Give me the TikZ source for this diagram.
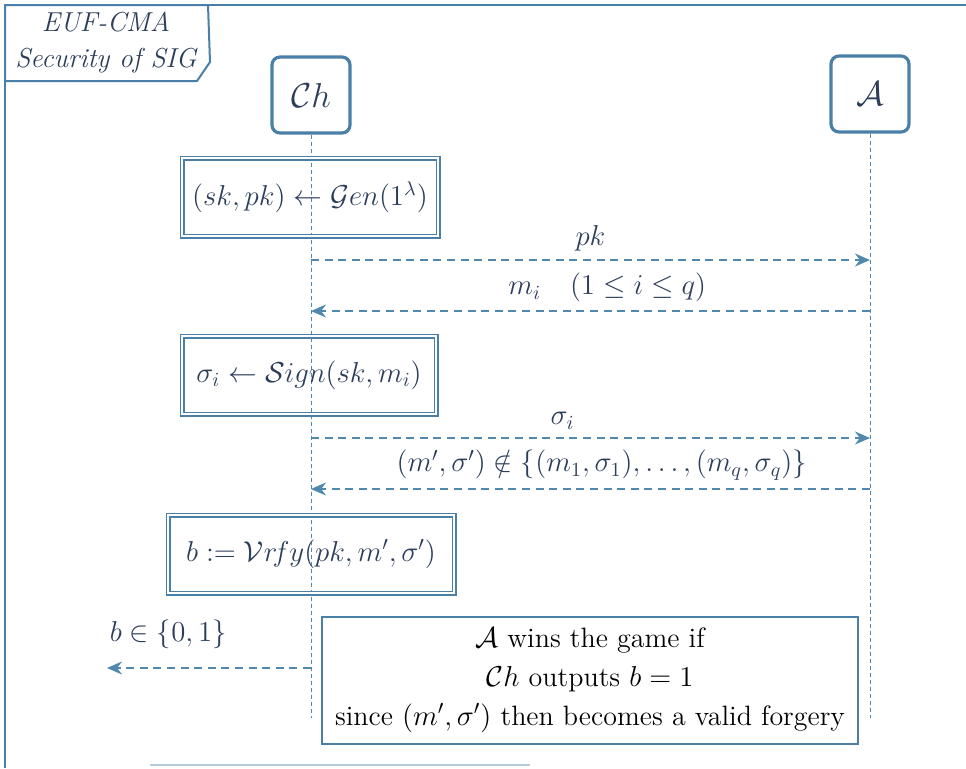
\documentclass[tikz,border=0pt]{standalone}
\usepackage{amsmath,amssymb}
\usetikzlibrary{arrows.meta,positioning}
\definecolor{framecol}{HTML}{4A7FA8}
\definecolor{inkcol}{HTML}{2C3E5A}
\definecolor{arrowcol}{HTML}{5088AE}
\tikzset{
  party/.style={draw=framecol, line width=1.6pt, rounded corners=4pt,
    minimum width=39pt, minimum height=38pt, text=inkcol, font=\fontsize{16}{18}\selectfont},
  compbox/.style={draw=framecol, double, double distance=1.3pt, line width=0.6pt,
    minimum height=39pt, text=inkcol, font=\fontsize{14.5}{17}\selectfont},
  msg/.style={draw=arrowcol, line width=1pt, dash pattern=on 4pt off 2.8pt,
    -{Stealth[length=7.5pt,width=6.5pt]}},
  msglabel/.style={above=3pt, inner sep=1pt, text=inkcol, font=\fontsize{14.5}{17}\selectfont},
  life/.style={draw=arrowcol, line width=0.5pt, dash pattern=on 2pt off 1.5pt},
}
\begin{document}
\begin{tikzpicture}[x=0.5pt,y=-0.5pt]
    \useasboundingbox (0,0) rectangle (966,768);
    %% frame
    \draw[framecol, line width=1pt] (966,5) -- (5,5) -- (5,768);
    \draw[framecol!40, line width=1pt] (150,765) -- (530,765);
    \draw[framecol, line width=1pt, fill=white] (5,5) -- (208,5) -- (210,62) -- (197,81) -- (5,81) -- cycle;
    \node[text=inkcol, align=center, font=\fontsize{13.7}{18}\selectfont\itshape] (title) at (106,43) {EUF-CMA\\Security of SIG};
    %% parties
    \node[party] (ch) at (311,95) {$\mathcal{C}h$};
    \node[party] (adv) at (870,94) {$\mathcal{A}$};
    %% lifelines
    \coordinate (chend) at (311,718);
    \coordinate (advend) at (870,718);
    \draw[life] (ch.south) -- (chend);
    \draw[life] (adv.south) -- (advend);
    %% computations
    \node[compbox, minimum width=128pt] (gen) at (310,197) {$(sk,pk) \leftarrow \mathcal{G}en(1^{\lambda})$};
    \node[compbox, minimum width=127pt] (sign) at (309,375) {$\sigma_i \leftarrow \mathcal{S}ign(sk,m_i)$};
    \node[compbox, minimum width=143pt] (vrfy) at (311,554) {$b := \mathcal{V}r\!fy(pk,m',\sigma')$};
    %% messages
    \coordinate (ch1) at (311,260);  \coordinate (adv1) at (870,260);
    \coordinate (ch2) at (311,311);  \coordinate (adv2) at (870,311);
    \coordinate (ch3) at (311,438);  \coordinate (adv3) at (870,438);
    \coordinate (ch4) at (311,489);  \coordinate (adv4) at (870,489);
    \coordinate (ch5) at (311,668);  \coordinate (out) at (107,668);
    \draw[msg] (ch1) -- node[msglabel] {$pk$} (adv1);
    \draw[msg] (adv2) -- node[msglabel, pos=0.47] {$m_i \quad (1 \leq i \leq q)$} (ch2);
    \draw[msg] (ch3) -- node[msglabel, pos=0.45] {$\sigma_i$} (adv3);
    \draw[msg] (adv4) -- node[msglabel, pos=0.48] {$(m',\sigma') \notin \{(m_1,\sigma_1),\ldots,(m_q,\sigma_q)\}$} (ch4);
    \draw[msg] (ch5) -- node[msglabel, pos=0.7, above=8pt] {$b \in \{0,1\}$} (out);
    %% result
    \node[draw=framecol, line width=1pt, fill=white, minimum width=268pt, minimum height=63.5pt,
      align=center, font=\fontsize{14}{19.5}\selectfont] (result) at (590,680)
      {$\mathcal{A}$ wins the game if\\$\mathcal{C}h$ outputs $b=1$\\since $(m',\sigma')$ then becomes a valid forgery};
\end{tikzpicture}
\end{document}
